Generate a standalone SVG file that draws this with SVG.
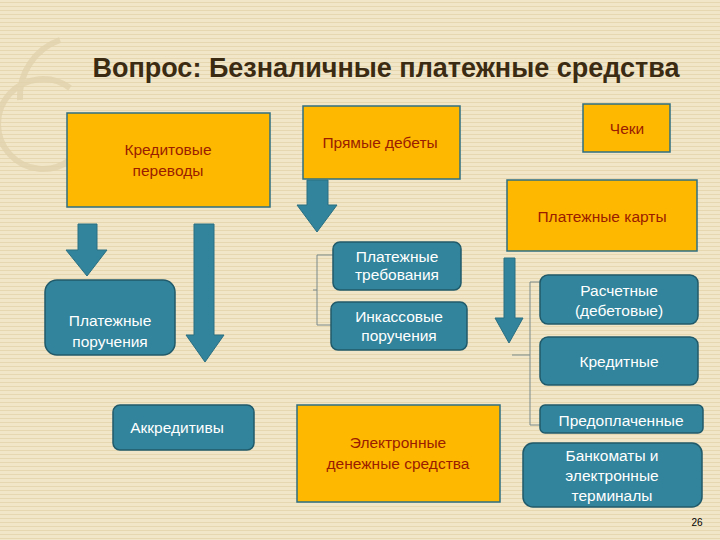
<svg xmlns="http://www.w3.org/2000/svg" width="720" height="540" viewBox="0 0 720 540">
<defs>
<pattern id="bg" width="4" height="4" patternUnits="userSpaceOnUse"><rect width="4" height="4" fill="#f1e6c8"/><rect y="2" width="4" height="1" fill="#e6d7b0"/></pattern>
<style>
.o{fill:#ffb800;stroke:#2e6f80;stroke-width:1.5}
.t{fill:#31849b;stroke:#205a6a;stroke-width:1.5}
.ar{fill:#31849b;stroke:#2a6f82;stroke-width:1}
text{font-family:"Liberation Sans",Arial,sans-serif;font-size:15.5px;text-anchor:middle}
.ot{fill:#9a1d00}
.tt{fill:#ffffff}
.br{fill:none;stroke:#7a8a8a;stroke-width:1}
</style>
</defs>
<rect width="720" height="540" fill="url(#bg)"/>
<g fill="none" stroke="#e2d3ad" stroke-width="6" opacity="0.8"><path d="M70 88 A45 45 0 1 0 70 160"/><path d="M60 40 A60 60 0 0 0 20 100"/></g>
<text x="386" y="77" style="font-size:27px;font-weight:bold;fill:#3b2b12">Вопрос: Безналичные платежные средства</text>
<g id="connectors">
<path class="ar" d="M78 224H97V250H107L87 276L66 250H78Z"/>
<path class="ar" d="M194 224H214V335H224L205 362L186 335H194Z"/>
<path class="ar" d="M307 180H328V205H337L317 232L297 205H307Z"/>
<path class="ar" d="M504 258H515V318H523L509 343L495 318H504Z"/>
<path class="br" d="M333 255H317V325H331M317 290H313"/>
<path class="br" d="M540 282H530V425H540M530 355H512"/>
</g>
<g id="n1"><rect class="o" x="67" y="113" width="203" height="94"/><text class="ot" x="168" y="155">Кредитовые</text><text class="ot" x="168" y="176">переводы</text></g>
<g id="n2"><rect class="o" x="303" y="106" width="157" height="73"/><text class="ot" x="380" y="148">Прямые дебеты</text></g>
<g id="n3"><rect class="o" x="583" y="104" width="87" height="48"/><text class="ot" x="627" y="134">Чеки</text></g>
<g id="n4"><rect class="o" x="507" y="180" width="190" height="71"/><text class="ot" x="602" y="222">Платежные карты</text></g>
<g id="n5"><rect class="t" x="45" y="280" width="130" height="75" rx="12"/><text class="tt" x="110" y="326">Платежные</text><text class="tt" x="110" y="347">поручения</text></g>
<g id="n6"><rect class="t" x="113" y="405" width="141" height="45" rx="7"/><text class="tt" x="177" y="433">Аккредитивы</text></g>
<g id="n7"><rect class="t" x="333" y="242" width="128" height="48" rx="7"/><text class="tt" x="397" y="262">Платежные</text><text class="tt" x="397" y="280">требования</text></g>
<g id="n8"><rect class="t" x="331" y="302" width="136" height="48" rx="7"/><text class="tt" x="399" y="322">Инкассовые</text><text class="tt" x="399" y="341">поручения</text></g>
<g id="n9"><rect class="o" x="297" y="405" width="203" height="97"/><text class="ot" x="398" y="448">Электронные</text><text class="ot" x="398" y="469">денежные средства</text></g>
<g id="n10"><rect class="t" x="540" y="275" width="158" height="49" rx="8"/><text class="tt" x="619" y="296">Расчетные</text><text class="tt" x="619" y="316">(дебетовые)</text></g>
<g id="n11"><rect class="t" x="540" y="337" width="158" height="48" rx="8"/><text class="tt" x="619" y="367">Кредитные</text></g>
<g id="n12"><rect class="t" x="540" y="405" width="163" height="28" rx="5"/><text class="tt" x="621" y="426">Предоплаченные</text></g>
<g id="n13"><rect class="t" x="523" y="443" width="179" height="64" rx="10"/><text class="tt" x="612" y="461">Банкоматы и</text><text class="tt" x="612" y="481">электронные</text><text class="tt" x="612" y="501">терминалы</text></g>
<text x="697" y="526" style="font-size:10px;fill:#000">26</text>
</svg>
